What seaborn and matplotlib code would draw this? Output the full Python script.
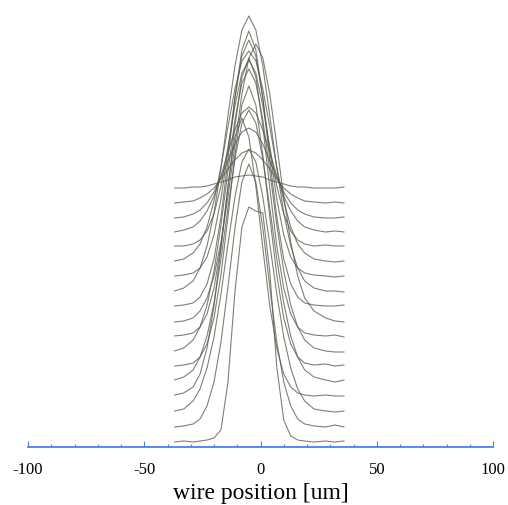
import seaborn as sns
import numpy as np
import pandas as pd
import matplotlib.pyplot as plt

# wire position grid [um]
wire_pos = [-37, -33, -29, -26, -23, -20, -17, -14, -11, -8, -5, -2, 1, 4, 7, 10, 13, 16, 19, 23, 28, 32, 36]

# vertical offset of each scan (bottom to top)
offsets = [5, 20, 35, 51, 66, 81, 95, 111, 125, 141, 155, 171, 185, 201, 215, 229, 244, 259]

# signal above baseline for each scan, bottom to top
scan_01 = [0, 1, 0, 1, 2, 4, 12, 60, 150, 215, 235, 231, 229, 170, 75, 22, 6, 2, 1, 0, 1, 0, 1]
scan_02 = [0, 1, 3, 8, 21, 45, 85, 140, 199, 245, 263, 245, 199, 140, 85, 45, 21, 8, 3, 1, 0, 2, 0]
scan_03 = [1, 3, 11, 23, 44, 75, 118, 168, 215, 250, 263, 250, 215, 168, 118, 75, 44, 23, 11, 3, 1, 0, 1]
scan_04 = [1, 3, 9, 22, 48, 90, 148, 210, 259, 278, 259, 210, 148, 90, 48, 22, 9, 3, 1, 0, 1, 0, 0]
scan_05 = [1, 4, 11, 24, 45, 78, 122, 173, 222, 258, 271, 258, 222, 173, 122, 78, 45, 24, 11, 4, 1, -1, 1]
scan_06 = [0, 1, 3, 9, 22, 48, 91, 149, 211, 261, 280, 261, 211, 149, 91, 48, 22, 9, 3, 1, 2, 0, 1]
scan_07 = [1, 4, 12, 25, 47, 81, 127, 181, 232, 269, 283, 269, 232, 181, 127, 81, 47, 25, 12, 4, 1, 0, 0]
scan_08 = [0, 1, 3, 9, 22, 48, 90, 148, 210, 259, 278, 259, 210, 148, 90, 48, 22, 9, 3, 1, 0, 1, -1]
scan_09 = [0, 1, 4, 11, 24, 46, 80, 125, 177, 228, 264, 278, 264, 228, 177, 125, 80, 46, 24, 11, 4, 1, 0]
scan_10 = [0, 1, 3, 9, 22, 47, 89, 146, 208, 256, 275, 256, 208, 146, 89, 47, 22, 9, 3, 1, 0, 0, 1]
scan_11 = [1, 4, 11, 24, 46, 79, 124, 176, 226, 262, 276, 262, 226, 176, 124, 79, 46, 24, 11, 4, 1, 1, 0]
scan_12 = [0, 1, 3, 8, 19, 41, 77, 125, 178, 220, 236, 220, 178, 125, 77, 41, 19, 8, 3, 1, 0, -1, 0]
scan_13 = [1, 3, 9, 18, 35, 61, 95, 135, 173, 201, 211, 201, 173, 135, 95, 61, 35, 18, 9, 3, 1, 0, 1]
scan_14 = [0, 0, 2, 6, 15, 32, 60, 99, 140, 173, 186, 173, 140, 99, 60, 32, 15, 6, 2, 0, 1, 0, 0]
scan_15 = [0, 2, 5, 11, 21, 36, 56, 80, 102, 119, 125, 119, 102, 80, 56, 36, 21, 11, 5, 2, 0, 1, 0]
scan_16 = [0, 1, 4, 8, 15, 26, 41, 57, 74, 86, 90, 86, 74, 57, 41, 26, 15, 8, 4, 1, 0, 0, 1]
scan_17 = [0, 1, 2, 5, 9, 15, 24, 34, 43, 50, 53, 50, 43, 34, 24, 15, 9, 5, 2, 1, 0, 1, 0]
scan_18 = [0, 0, 1, 1, 2, 4, 6, 8, 11, 12, 13, 12, 11, 8, 6, 4, 2, 1, 1, 0, 0, 0, 1]

scans = [scan_01, scan_02, scan_03, scan_04, scan_05, scan_06, scan_07, scan_08, scan_09,
         scan_10, scan_11, scan_12, scan_13, scan_14, scan_15, scan_16, scan_17, scan_18]

xticks = [-100, -50, 0, 50, 100]
xticklabels = ["-100", "-50", "0", "50", "100"]

rows = []
for k, (sig, off) in enumerate(zip(scans, offsets)):
    for x, s in zip(wire_pos, sig):
        rows.append({"scan": k, "x": x, "y": off + s})
df = pd.DataFrame(rows)

sns.set_theme(style="white")
plt.rcParams["font.family"] = ["Liberation Serif", "DejaVu Serif"]
plt.rcParams["axes.unicode_minus"] = False

fig = plt.figure(figsize=(5.08, 5.06), dpi=100)
ax = fig.add_axes([28 / 508, 58 / 506, 465 / 508, 448 / 506])

sns.lineplot(data=df, x="x", y="y", units="scan", estimator=None, sort=False,
             color="#55554a", linewidth=0.8, alpha=0.75, ax=ax)

blue = "#4a7ff0"
ax.set_xlim(-100, 100)
ax.set_ylim(0, 448)
for side in ["top", "left", "right"]:
    ax.spines[side].set_visible(False)
ax.spines["bottom"].set_color(blue)
ax.spines["bottom"].set_linewidth(1.3)
ax.set_yticks([])
ax.set_xticks(xticks)
ax.set_xticklabels(xticklabels)
ax.set_xticks(np.arange(-90, 100, 10), minor=True)
ax.tick_params(axis="x", which="major", direction="in", length=4, width=0.8,
               color=blue, labelsize=12, labelcolor="black", pad=10, bottom=True)
ax.tick_params(axis="x", which="minor", direction="in", length=2.5, width=0.8,
               color=blue, bottom=True)
ax.set_xlabel("wire position [um]", fontsize=17, labelpad=4, color="black")
ax.set_ylabel("")

plt.savefig("out.png", dpi=100)
